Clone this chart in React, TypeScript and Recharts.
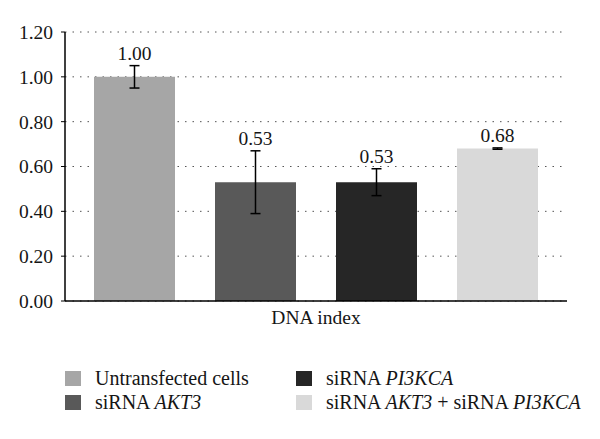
import React from "react";
import { BarChart, Bar, XAxis, YAxis, CartesianGrid, ErrorBar, LabelList, Legend } from "recharts";

const categories = ["DNA index"];
const seriesNames = ["Untransfected cells", "siRNA AKT3", "siRNA PI3KCA", "siRNA AKT3 + siRNA PI3KCA"];
const italicWords = ["AKT3", "PI3KCA"];
const seriesValues = [1.0, 0.53, 0.53, 0.68];
const seriesErrors = [0.05, 0.14, 0.06, 0.003];
const seriesColors = ["#a6a6a6", "#595959", "#262626", "#d9d9d9"];
const yTicks = [0, 0.2, 0.4, 0.6, 0.8, 1.0, 1.2];

const keys = seriesNames.map((_, i) => `s${i}`);
const data = categories.map((c) => {
  const row: any = { name: c };
  keys.forEach((k, i) => {
    row[k] = seriesValues[i];
    row[`${k}e`] = seriesErrors[i];
  });
  return row;
});

const FONT = "'Liberation Serif', 'DejaVu Serif', serif";
const TEXT = "#151515";

const makeLabel = (err: number) => (props: any) => {
  const { x, y, width, height, value } = props;
  const errPx = value ? (Number(height) / Number(value)) * err : 0;
  return (
    <text
      x={Number(x) + Number(width) / 2}
      y={Number(y) - errPx - 6}
      textAnchor="middle"
      style={{ fontFamily: FONT, fontSize: 19.5 }}
      fill={TEXT}
    >
      {Number(value).toFixed(2)}
    </text>
  );
};

const renderName = (name: string) =>
  name.split(" ").map((w, i) => (
    <React.Fragment key={i}>
      {i > 0 ? " " : ""}
      {italicWords.includes(w) ? <i>{w}</i> : w}
    </React.Fragment>
  ));

const renderLegend = () => (
  <div
    style={{
      display: "grid",
      gridAutoFlow: "column",
      gridTemplateRows: "23.5px 23.5px",
      gridTemplateColumns: "231px 290px",
      fontFamily: FONT,
      fontSize: 20,
      color: TEXT,
    }}
  >
    {seriesNames.map((n, i) => (
      <div key={i} style={{ display: "flex", alignItems: "center", whiteSpace: "nowrap" }}>
        <span style={{ display: "inline-block", flex: "none", width: 16, height: 15, background: seriesColors[i], marginRight: 14 }} />
        <span>{renderName(n)}</span>
      </div>
    ))}
  </div>
);

const tickStyle = { fill: TEXT, fontSize: 19.5, fontFamily: FONT, style: { fontFamily: FONT } } as any;

export default function App() {
  return (
    <div style={{ position: "absolute", left: 0, top: 0, width: 600, height: 439, background: "#fff" }}>
      <BarChart
        width={600}
        height={439}
        data={data}
        margin={{ top: 32, right: 33, left: 0, bottom: 61 }}
        barSize={81}
        barGap={40}
        style={{ fontFamily: FONT }}
      >
        <CartesianGrid vertical={false} stroke="#555" strokeDasharray="1.5 6" />
        <XAxis
          dataKey="name"
          height={30}
          axisLine={{ stroke: "#000", strokeWidth: 1.5 }}
          tickLine={false}
          tick={tickStyle}
          tickMargin={3}
        />
        <YAxis
          width={65}
          domain={[0, 1.2]}
          ticks={yTicks}
          interval={0}
          tickFormatter={(v: number) => v.toFixed(2)}
          axisLine={{ stroke: "#000", strokeWidth: 1.5 }}
          tickLine={{ stroke: "#000" }}
          tickSize={4}
          tickMargin={8}
          tick={tickStyle}
        />
        <Legend
          content={renderLegend}
          wrapperStyle={{ top: 367, left: 65, bottom: "auto", width: 530, height: 47 }}
        />
        {keys.map((k, i) => (
          <Bar key={k} dataKey={k} name={seriesNames[i]} fill={seriesColors[i]} isAnimationActive={false}>
            <ErrorBar dataKey={`${k}e`} stroke="#000" strokeWidth={1.5} width={5} />
            <LabelList dataKey={k} content={makeLabel(seriesErrors[i])} />
          </Bar>
        ))}
      </BarChart>
    </div>
  );
}
